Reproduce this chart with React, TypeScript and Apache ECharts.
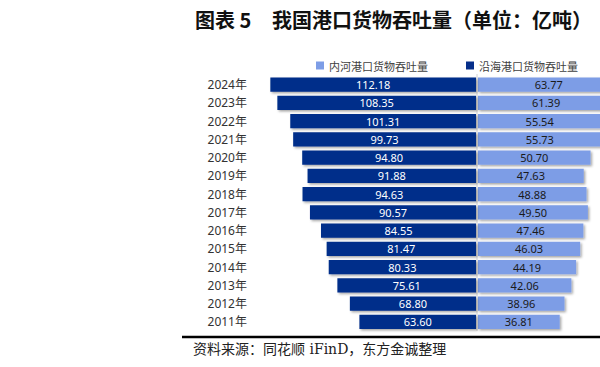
import React, { useEffect, useRef } from "react";
import * as echarts from "echarts";

const years = ["2011年", "2012年", "2013年", "2014年", "2015年", "2016年", "2017年", "2018年", "2019年", "2020年", "2021年", "2022年", "2023年", "2024年"];
const coastal = [63.6, 68.8, 75.61, 80.33, 81.47, 84.55, 90.57, 94.63, 91.88, 94.8, 99.73, 101.31, 108.35, 112.18];
const inland = [36.81, 38.96, 42.06, 44.19, 46.03, 47.46, 49.5, 48.88, 47.63, 50.7, 55.73, 55.54, 61.39, 63.77];
const seriesNames = ["内河港口货物吞吐量", "沿海港口货物吞吐量"];

const DARK = "#062f8a";
const LIGHT = "#7d9de6";

export default function App() {
  const ref = useRef<HTMLDivElement>(null);
  useEffect(() => {
    if (!ref.current) return;
    const chart = echarts.init(ref.current, null, { renderer: "svg" });
    const shadow = {
      shadowBlur: 2,
      shadowColor: "rgba(0,0,0,0.35)",
      shadowOffsetX: 1.5,
      shadowOffsetY: 1.5,
    };
    const labelFont = "'Noto Sans', 'Noto Sans CJK SC', sans-serif";
    chart.setOption({
      animation: false,
      textStyle: { fontFamily: "'Noto Sans CJK SC', sans-serif" },
      legend: {
        left: 311,
        top: 55,
        icon: "rect",
        itemWidth: 8,
        itemHeight: 8,
        itemGap: 38,
        textStyle: { fontSize: 11, color: "#404040", fontFamily: "'Noto Sans CJK SC', sans-serif" },
        data: seriesNames,
      },
      grid: [
        { left: 256, width: 220, top: 75.5, height: 255.5, containLabel: false },
        { left: 478, width: 180, top: 75.5, height: 255.5, containLabel: false },
      ],
      xAxis: [
        { gridIndex: 0, type: "value", min: 0, max: 120, inverse: true, show: false },
        { gridIndex: 1, type: "value", min: 0, max: 180 / 2.22, show: false },
      ],
      yAxis: [
        {
          gridIndex: 0,
          type: "category",
          data: years,
          axisLine: { show: false, onZero: false },
          axisTick: { show: false },
          position: "left",
          axisLabel: { margin: 9, fontSize: 12, color: "#333", fontFamily: labelFont },
        },
        {
          gridIndex: 1,
          type: "category",
          data: years,
          show: false,
        },
      ],
      series: [
        {
          name: seriesNames[0],
          type: "bar",
          xAxisIndex: 1,
          yAxisIndex: 1,
          data: inland,
          barWidth: "78%",
          itemStyle: { color: LIGHT, ...shadow },
          label: {
            show: true,
            position: "inside",
            color: "#1a1a1a",
            fontSize: 11,
            fontFamily: labelFont,
            formatter: (p: any) => p.value.toFixed(2),
          },
        },
        {
          name: seriesNames[1],
          type: "bar",
          xAxisIndex: 0,
          yAxisIndex: 0,
          data: coastal,
          barWidth: "78%",
          itemStyle: { color: DARK, ...shadow },
          label: {
            show: true,
            position: "inside",
            color: "#ffffff",
            fontSize: 11,
            fontFamily: labelFont,
            formatter: (p: any) => p.value.toFixed(2),
          },
        },
      ],
      graphic: [
        {
          type: "text",
          left: 195,
          top: 9,
          style: { text: "图表 5", fontSize: 20, fontWeight: "bold", fill: "#111", fontFamily: "'Noto Sans CJK SC', sans-serif" },
        },
        {
          type: "text",
          left: 272,
          top: 9,
          style: { text: "我国港口货物吞吐量（单位：亿吨）", fontSize: 20, fontWeight: "bold", fill: "#111", fontFamily: "'Noto Sans CJK SC', sans-serif" },
        },
        {
          type: "line",
          shape: { x1: 477, y1: 74, x2: 477, y2: 331 },
          style: { stroke: "#d4d4d4", lineWidth: 1 },
          z: 0,
        },
        {
          type: "line",
          shape: { x1: 182, y1: 337, x2: 620, y2: 337 },
          style: { stroke: "#000", lineWidth: 2.5 },
        },
        {
          type: "text",
          left: 193,
          top: 342,
          style: { text: "资料来源：同花顺 iFinD，东方金诚整理", fontSize: 14, fill: "#222", fontFamily: "'DejaVu Serif', 'Noto Sans CJK SC', serif" },
        },
      ],
    });
    return () => chart.dispose();
  }, []);
  return (
    <div style={{ position: "absolute", left: 0, top: 0, width: 600, height: 367, overflow: "hidden", background: "#fff" }}>
      <div ref={ref} style={{ width: 680, height: 367 }} />
    </div>
  );
}
